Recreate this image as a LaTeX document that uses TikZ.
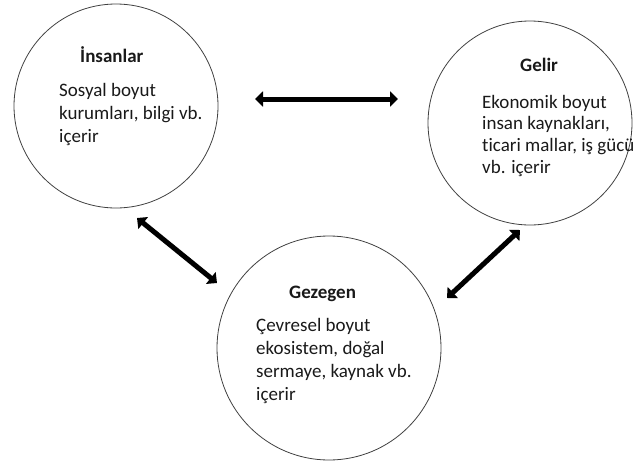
\documentclass[tikz,border=0pt]{standalone}
\usepackage{fontspec}
\setmainfont[Ligatures=NoCommon]{Carlito}
\usetikzlibrary{arrows.meta}
\begin{document}
\begin{tikzpicture}[x=1pt,y=-1pt,
  ring/.style={circle, draw=black!75, line width=0.8pt, inner sep=0pt},
  ttl/.style={anchor=base west, inner sep=0pt, font=\fontsize{19}{23}\selectfont\bfseries, text=black!90},
  txt/.style={anchor=base west, inner sep=0pt, font=\fontsize{19}{23}\selectfont, text=black!90},
  arr/.style={line width=5pt, {Triangle[width=15pt,length=8pt]}-{Triangle[width=15pt,length=8pt]}}]
\useasboundingbox (0,0) rectangle (634,463);
\node[ring, minimum size=204pt] (insan) at (116,106) {};
\node[ring, minimum size=204pt] (gelir) at (530,123) {};
\node[ring, minimum size=224pt] (gez) at (329,348) {};
% Insanlar
\node[ttl] (t1) at (80,62) {İnsanlar};
\node[txt] (a1) at (59,96) {Sosyal boyut};
\node[txt] (a2) at (59,119) {kurumları, bilgi vb.};
\node[txt] (a3) at (59,142) {içerir};
% Gelir
\node[ttl] (t2) at (520,71) {Gelir};
\node[txt] (b1) at (482,108) {Ekonomik boyut};
\node[txt] (b2) at (482,129) {insan kaynakları,};
\node[txt] (b3) at (482,151) {ticari mallar, iş gücü};
\node[txt] (b4) at (482,173) {vb. içerir};
% Gezegen
\node[ttl] (t3) at (289,298) {Gezegen};
\node[txt] (c1) at (256,331) {Çevresel boyut};
\node[txt] (c2) at (256,354) {ekosistem, doğal};
\node[txt] (c3) at (256,377) {sermaye, kaynak vb.};
\node[txt] (c4) at (256,400) {içerir};
% arrows
\coordinate (h1) at (255,99);
\coordinate (h2) at (398,99);
\coordinate (d1) at (137,218);
\coordinate (d2) at (217,283);
\coordinate (e1) at (447,298);
\coordinate (e2) at (520,230);
\draw[arr] (h1) -- (h2);
\draw[arr] (d1) -- (d2);
\draw[arr] (e1) -- (e2);
\end{tikzpicture}
\end{document}
